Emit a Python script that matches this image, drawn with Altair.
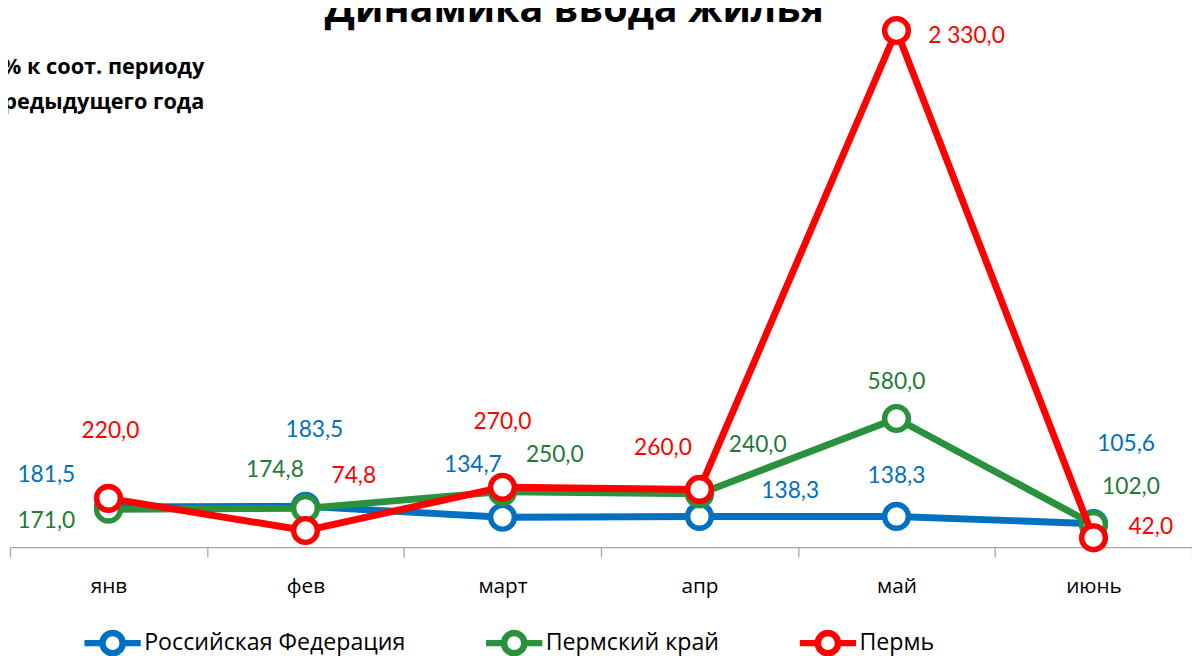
import altair as alt
import pandas as pd

months = ["янв", "фев", "март", "апр", "май", "июнь"]
series_names = ["Российская Федерация", "Пермский край", "Пермь"]
rf_values = [181.5, 183.5, 134.7, 138.3, 138.3, 105.6]
kray_values = [171.0, 174.8, 250.0, 240.0, 580.0, 102.0]
perm_values = [220.0, 74.8, 270.0, 260.0, 2330.0, 42.0]

title_text = "Динамика ввода жилья"
ytitle_lines = ["в % к соот. периоду", "предыдущего года"]

line_colors = ["#0070C0", "#2A923D", "#FF0000"]
label_colors = ["#0070C0", "#217A35", "#FF0000"]

# label placement offsets (dx, dy in pixels) per series per month
label_offsets = [
    [(-63, -32), (9, -77), (-30, -53), (92, -26), (0, -41), (33, -81)],
    [(-63, 12), (-31, -39), (53, -37), (59, -49), (0, -37), (38, -38)],
    [(2, -68), (49, -55), (0, -66), (-37, -42), (71, 6), (58, -11)],
]


def fmt(v):
    s = f"{v:,.1f}".replace(",", " ").replace(".", ",")
    return s


rows = []
for name, vals in zip(series_names, [rf_values, kray_values, perm_values]):
    for i, (m, v) in enumerate(zip(months, vals)):
        rows.append({"series": name, "month": m, "idx": i, "value": v, "label": fmt(v)})
df = pd.DataFrame(rows)

W, H = 1198, 542
YMAX = 2412

x_enc = alt.X(
    "month:N",
    sort=months,
    scale=alt.Scale(paddingInner=0, paddingOuter=0),
    axis=alt.Axis(
        title=None,
        tickBand="extent",
        domainColor="#A6A6A6",
        tickColor="#A6A6A6",
        tickSize=10,
        labelFont="Open Sans",
        labelFontSize=21,
        labelColor="#000000",
        labelPadding=19,
        labelAngle=0,
        domainWidth=1.3,
        tickWidth=1.3,
    ),
)
y_enc = alt.Y(
    "value:Q",
    scale=alt.Scale(domain=[0, YMAX], nice=False, zero=True),
    axis=None,
)
color_scale = alt.Scale(domain=series_names, range=line_colors)
color_enc = alt.Color(
    "series:N",
    sort=series_names,
    scale=color_scale,
    legend=alt.Legend(
        title=None,
        orient="none",
        direction="horizontal",
        legendX=72,
        legendY=607,
        symbolType="M-1,0 L-0.36,0 M0.36,0 L1,0 M0.36,0 A0.36,0.36 0 1 1 -0.36,0 A0.36,0.36 0 1 1 0.36,0 Z",
        symbolSize=3249,
        symbolStrokeWidth=6.5,
        symbolFillColor="white",
        symbolOpacity=1,
        labelFont="Open Sans",
        labelFontSize=23.5,
        labelColor="#000000",
        labelOffset=0,
        columnPadding=68,
        labelLimit=400,
    ),
)

layers = []
for si, name in enumerate(series_names):
    sdf = df[df.series == name]
    base = alt.Chart(sdf)
    layers.append(
        base.mark_line(strokeWidth=7, strokeJoin="round").encode(
            x=x_enc, y=y_enc, color=color_enc
        )
    )
    layers.append(
        base.mark_point(
            filled=False, fill="white", fillOpacity=1, size=580, strokeWidth=5.5, opacity=1
        ).encode(x=x_enc, y=y_enc,
                 color=alt.Color("series:N", sort=series_names, scale=color_scale, legend=None))
    )

for si, name in enumerate(series_names):
    for i, m in enumerate(months):
        dx, dy = label_offsets[si][i]
        layers.append(
            alt.Chart(df[(df.series == name) & (df.month == m)])
            .mark_text(
                font="Lato",
                fontSize=23,
                color=label_colors[si],
                dx=dx,
                dy=dy,
                align="center",
                baseline="middle",
            )
            .encode(x=x_enc, y=y_enc, text="label:N")
        )

title_layer = alt.Chart(pd.DataFrame({"t": [title_text]})).mark_text(
    font="Open Sans", fontSize=40, fontWeight="bold", color="#000000",
    align="center", baseline="alphabetic"
).encode(x=alt.value(572), y=alt.value(10), text="t:N")

ytitle_layers = []
for line, ypos in zip(ytitle_lines, [56, 91]):
    ytitle_layers.append(
        alt.Chart(pd.DataFrame({"t": [line]})).mark_text(
            font="Open Sans", fontSize=22, fontWeight="bold", color="#000000",
            align="right", baseline="middle"
        ).encode(x=alt.value(197), y=alt.value(ypos), text="t:N")
    )

chart = (
    alt.layer(*layers, title_layer, *ytitle_layers)
    .properties(
        width=W,
        height=H,
        autosize=alt.AutoSizeParams(type="none"),
        padding={"left": 2, "top": 0, "right": 0, "bottom": 106},
        background="white",
    )
    .configure_view(stroke=None)
)

chart.save("out.html", embed_options={"renderer": "svg", "actions": False})
